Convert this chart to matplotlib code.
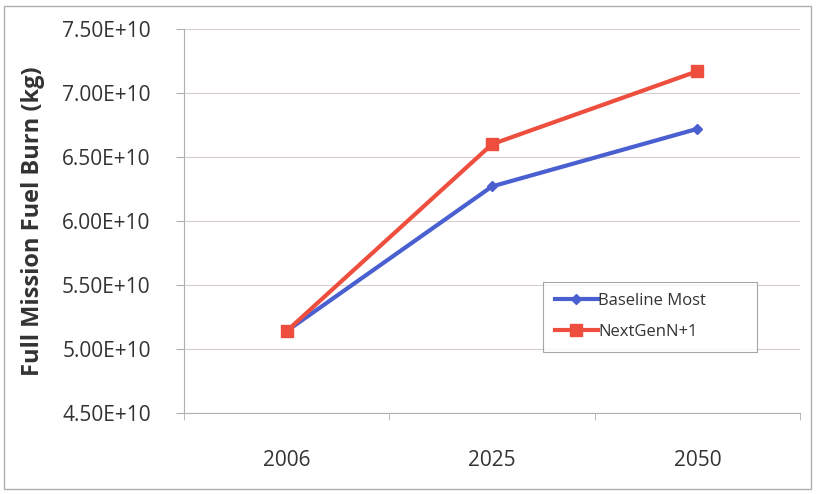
import matplotlib
matplotlib.use("Agg")
import matplotlib.pyplot as plt
from matplotlib.patches import Rectangle
from matplotlib.ticker import FuncFormatter, FixedLocator, NullFormatter

years = ["2006", "2025", "2050"]
baseline_most = [5.14e10, 6.27e10, 6.72e10]
nextgen_n1 = [5.14e10, 6.60e10, 7.17e10]
y_ticks = [4.5e10, 5.0e10, 5.5e10, 6.0e10, 6.5e10, 7.0e10, 7.5e10]

plt.rcParams["font.family"] = ["Open Sans", "DejaVu Sans"]

fig = plt.figure(figsize=(8.16, 4.94), dpi=100)
ax = fig.add_axes([184 / 816, 1 - 413 / 494, 616 / 816, 384 / 494])

# outer chart border
fig.patches.append(Rectangle((4 / 816, 1 - 489 / 494), 807 / 816, 483 / 494,
                             transform=fig.transFigure, fill=False,
                             edgecolor="#b0b0b0", lw=1.0))

x = list(range(len(years)))
ax.plot(x, baseline_most, color="#4a5fd0", lw=3, marker="D", ms=5,
        label="Baseline Most", zorder=3)
ax.plot(x, nextgen_n1, color="#ee4e3e", lw=3, marker="s", ms=8,
        label="NextGenN+1", zorder=4)

ax.set_xlim(-0.5, 2.5)
ax.set_ylim(4.5e10, 7.5e10)
ax.set_yticks(y_ticks)
ax.yaxis.set_major_formatter(FuncFormatter(lambda v, p: f"{v / 1e10:.2f}E+10"))
ax.grid(axis="y", color="#d8cccc", lw=0.8)
ax.set_axisbelow(True)

ax.set_xticks(x)
ax.set_xticklabels(years)
ax.xaxis.set_minor_locator(FixedLocator([-0.5, 0.5, 1.5, 2.5]))
ax.xaxis.set_minor_formatter(NullFormatter())
ax.tick_params(axis="x", which="major", length=0, pad=27, labelsize=15,
               labelcolor="#333333")
ax.tick_params(axis="x", which="minor", length=5, color="#b0b0b0")
ax.tick_params(axis="y", length=6, color="#b0b0b0", pad=18, labelsize=15,
               labelcolor="#333333")

for side in ("top", "right"):
    ax.spines[side].set_visible(False)
for side in ("left", "bottom"):
    ax.spines[side].set_color("#b0b0b0")
    ax.spines[side].set_linewidth(0.8)

ax.set_ylabel("Full Mission Fuel Burn (kg)", fontsize=17, fontweight="bold",
              color="#333333", labelpad=12)

leg = ax.legend(loc="lower left", bbox_to_anchor=(0.583, 0.159, 0.347, 0.221),
                mode="expand", fontsize=12, frameon=True, fancybox=False,
                edgecolor="#909090", handlelength=2.6, handletextpad=0.0,
                borderaxespad=0, labelspacing=0.9, borderpad=0.7)
leg.get_frame().set_linewidth(0.8)
for t in leg.get_texts():
    t.set_color("#333333")

fig.savefig("out.png", dpi=100)
